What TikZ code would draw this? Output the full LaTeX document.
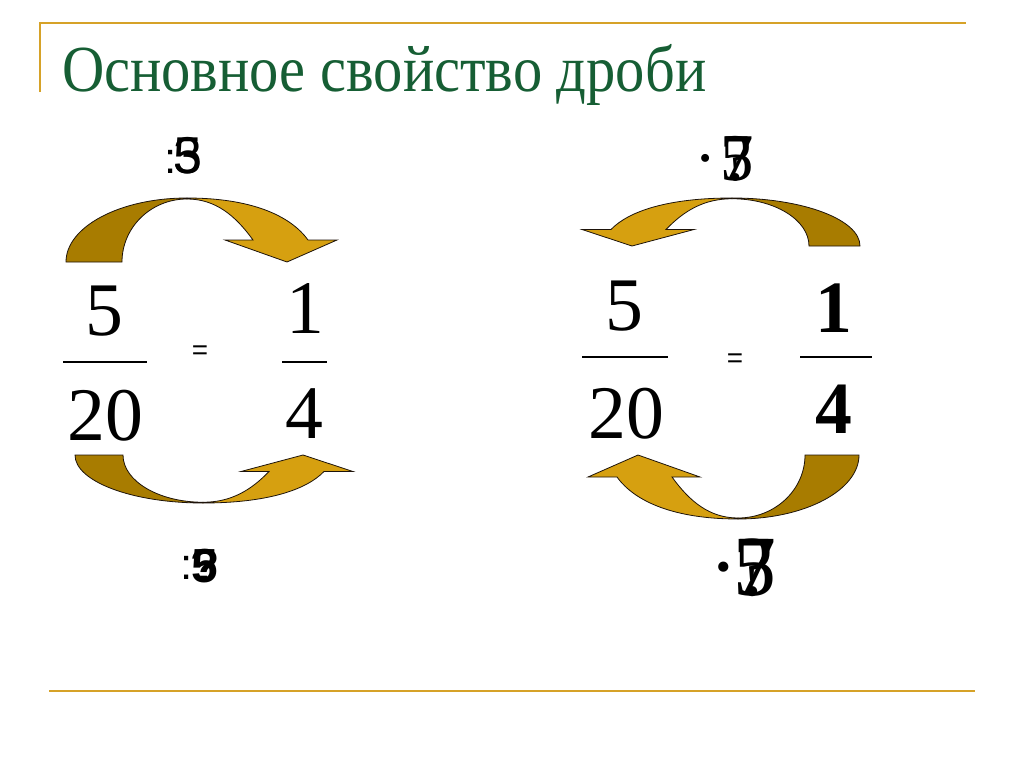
\documentclass[tikz,border=0pt]{standalone}
\usepackage{fontspec}
\setmainfont{Liberation Serif}
\setsansfont{Liberation Sans}
\usetikzlibrary{positioning}

\definecolor{framegold}{RGB}{214,162,40}
\definecolor{golddark}{RGB}{168,124,0}
\definecolor{goldlight}{RGB}{214,160,16}
\definecolor{titlegreen}{RGB}{22,94,52}

\tikzset{
  pics/curvarrow/.style n args={2}{code={
    % back side of the ribbon
    \draw[fill=golddark, draw=black!85!brown, line width=0.8pt]
      (-#1,64) -- (-#2,64) arc[start angle=180, end angle=270, x radius=#2, y radius=63]
      -- (0,0) arc[start angle=270, end angle=180, x radius=#1, y radius=64] -- cycle;
    % front side with the head
    \draw[fill=goldlight, draw=black!85!brown, line width=0.8pt]
      (0,0) .. controls (63,0) and (103,17) .. (121,42) -- (150,42) -- (100,64)
      -- (38,42) -- (66,42) .. controls (48,17) and (28,1) .. (0,1) -- cycle;
  }}
}

\begin{document}
\begin{tikzpicture}[x=1bp, y=-1bp,
  frac/.style={inner sep=0pt, anchor=base, font=\fontsize{76}{76}\selectfont},
  fracbold/.style={frac, font=\fontsize{74}{74}\selectfont\bfseries},
  eqsign/.style={inner sep=0pt, font=\sffamily\fontsize{28}{28}\selectfont},
  bar/.style={line width=3pt, line cap=butt},
  oplbl/.style={inner sep=0pt, anchor=base}]
\fill[white] (0,0) rectangle (1024,767);
\useasboundingbox (0,0) rectangle (1024,767);

% frame lines
\draw[framegold, line width=2pt] (40,92) -- (40,23) -- (966,23);
\draw[framegold, line width=2.8pt] (49,691) -- (975,691);

% title
\node[inner sep=0pt, anchor=base west, text=titlegreen, xscale=0.89,
  font=\fontsize{66}{66}\selectfont] (title) at (62,92) {Основное свойство дроби};

% left equality
\node[frac] (numL) at (104,335) {5};
\node[frac] (denL) at (105,440) {20};
\draw[bar] (63,362) -- (147,362);
\node[eqsign] (eqL) at (200,353) {=};
\node[frac] (numLr) at (305,333) {1};
\node[frac] (denLr) at (304,438) {4};
\draw[bar] (282,362) -- (327,362);

% right equality
\node[frac] (numR) at (624,330) {5};
\node[frac] (denR) at (626,438) {20};
\draw[bar] (582,357) -- (668,357);
\node[eqsign] (eqR) at (735,361) {=};
\node[fracbold] (numRr) at (834,332) {1};
\node[fracbold] (denRr) at (834,433) {4};
\draw[bar] (800,357) -- (872,357);

% curved arrows
\pic at (187,198) {curvarrow={121}{65}};
\pic[xscale=-1, yscale=0.75] at (732,198) {curvarrow={128}{77}};
\pic[yscale=-0.75] at (203,503) {curvarrow={128}{80}};
\pic[xscale=-1, yscale=-1] at (738,519) {curvarrow={121}{67}};

% operation labels, overlaid
\node[oplbl, font=\sffamily\fontsize{44}{44}\selectfont] (divTa) at (171,173) {:};
\foreach \d [count=\k] in {3,5}
  \node[oplbl, font=\sffamily\fontsize{52}{52}\selectfont] (divT\k) at (188,173) {\d};
\node[oplbl, font=\sffamily\fontsize{44}{44}\selectfont] (divBa) at (187,579) {:};
\foreach \d [count=\k] in {5,?}
  \node[oplbl, font=\sffamily\bfseries\fontsize{48}{48}\selectfont] (divB\k) at (205,582) {\d};
\node[oplbl, font=\fontsize{67}{67}\selectfont] (mulTa) at (706,180) {·};
\foreach \d [count=\k] in {7,5,?}
  \node[oplbl, font=\fontsize{67}{67}\selectfont] (mulT\k) at (737,180) {\d};
\node[oplbl, font=\fontsize{86}{86}\selectfont] (mulBa) at (724,595) {·};
\foreach \d [count=\k] in {7,5,?}
  \node[oplbl, font=\fontsize{86}{86}\selectfont] (mulB\k) at (755,595) {\d};
\end{tikzpicture}
\end{document}
